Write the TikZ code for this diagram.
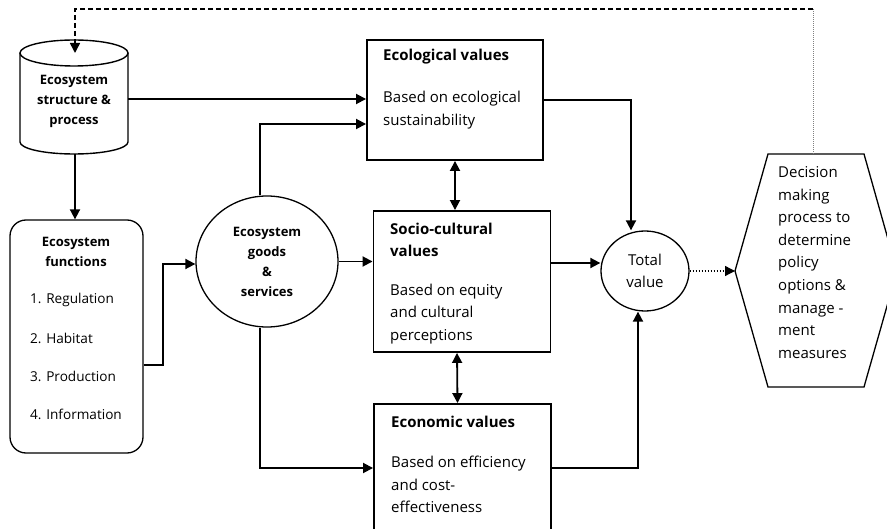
\documentclass[tikz,border=0pt]{standalone}
\usepackage{fontspec}
\setmainfont{Open Sans}
\usetikzlibrary{arrows.meta,shapes.geometric}

\begin{document}
\begin{tikzpicture}[x=1pt,y=-1pt,
  conn/.style={line width=1.8pt},
  tip/.tip={Triangle[length=10pt,width=10pt]},
  arr/.style={conn,-tip},
  darr/.style={conn,tip-tip},
  dotarr/.style={line width=1.3pt,dash pattern=on 1.5pt off 1.5pt,-tip},
  feedback/.style={line width=1.6pt,dash pattern=on 5pt off 3pt},
  valbox/.style={draw,line width=1.9pt,rectangle,inner sep=0pt},
  thinshape/.style={draw,line width=1.3pt,inner sep=0pt},
  txt/.style={inner sep=0pt,align=left,font=\fontsize{15}{22.6}\selectfont},
  head/.style={inner sep=0pt,align=left,font=\fontsize{15}{22}\selectfont\bfseries},
  lbl/.style={inner sep=0pt,align=center,font=\fontsize{13}{20}\selectfont\bfseries},
  item/.style={inner sep=0pt,anchor=west,font=\fontsize{13.6}{16}\selectfont},
]
\path[use as bounding box] (0,0) rectangle (887,529);
\clip (0,0) rectangle (887,529);

% cylinder: ecosystem structure & process
\draw[line width=1.4pt] (20,53) -- (20,142)
  arc[start angle=180,end angle=0,x radius=54,y radius=12] -- (128,53);
\draw[line width=1.4pt] (74,53) ellipse [x radius=54,y radius=13];
\node[lbl] (cyl) at (74,101) {Ecosystem\\structure \&\\process};
\coordinate (cylR) at (128,99);
\coordinate (cylB) at (75,154);
\coordinate (cylT) at (75,53);

% ecosystem functions
\node[thinshape,rounded corners=16pt,minimum width=133pt,minimum height=233pt] (fun) at (76.5,336.5) {};
\node[lbl] (funhead) at (76,252) {Ecosystem\\functions};
\node[item] (f1) at (30,300) {1. Regulation};
\node[item] (f2) at (30,338) {2. Habitat};
\node[item] (f3) at (30,376) {3. Production};
\node[item] (f4) at (30,414) {4. Information};

% goods & services
\node[thinshape,ellipse,minimum width=142pt,minimum height=131pt,lbl] (goods) at (267,261.5)
  {Ecosystem\\goods\\\&\\services};

% value boxes
\node[valbox,minimum width=176pt,minimum height=120pt] (eco) at (455,100) {};
\node[valbox,minimum width=177pt,minimum height=141pt] (soc) at (462,281.5) {};
\node[valbox,minimum width=177pt,minimum height=128pt] (econ) at (462.5,468) {};

\node[head,anchor=west] (ecoh) at (383,57) {Ecological values};
\node[txt,anchor=west] (ecob) at (383,110) {Based on ecological\\sustainability};
\node[head,anchor=west] (soch) at (390,240) {Socio-cultural\\values};
\node[txt,anchor=west] (socb) at (390,314) {Based on equity\\and cultural\\perceptions};
\node[head,anchor=west] (econh) at (391,422) {Economic values};
\node[txt,anchor=west] (econb) at (391,484.5) {Based on efficiency\\and cost-\\effectiveness};

% total value
\node[thinshape,ellipse,minimum width=88pt,minimum height=80pt,txt,align=center] (total) at (645,271)
  {Total\\value};

% decision making hexagon
\draw[line width=1.3pt] (735,271) -- (768,154) -- (864,154) -- (897,271)
  -- (864,387) -- (768,387) -- cycle;
\coordinate (decL) at (735,271);
\coordinate (decT) at (813,154);
\node[txt,anchor=west] (dec) at (778,262.5)
  {Decision\\making\\process to\\determine\\policy\\options \&\\manage -\\ment\\measures};

% connectors
\draw[arr] (cylB) -- (cylB |- fun.north);
\draw[arr] (cylR) -- (cylR -| eco.west);
\draw[arr] ([yshift=-28.5pt]fun.east) -- ++(19,0) |- ([yshift=-2.5pt]goods.west);
\draw[arr] ([xshift=-7pt]goods.north) |- ([yshift=-24pt]eco.west);
\draw[arr] ([xshift=-7pt]goods.south) |- (econ.west);
\draw[arr] (goods.east) -- (goods.east -| soc.west);
\draw[darr] (eco.south) -- (eco.south |- soc.north);
\draw[darr] ([xshift=-5pt]soc.south) -- ([xshift=-5pt]econ.north);
\draw[arr] (eco.east) -| ([xshift=-14pt]total.north);
\draw[arr] ([yshift=18.5pt]soc.east) -- ([yshift=8pt]total.west);
\draw[arr] (econ.east) -| ([xshift=-7pt]total.south);
\draw[dotarr] (total.east) -- (decL);

% feedback loop
\coordinate (fbR) at (813,9);
\coordinate (fbL) at (75,9);
\draw[gray,line width=0.9pt,dash pattern=on 1pt off 1pt] (decT) -- (fbR);
\draw[feedback] (fbR) -- (fbL) -- ([yshift=9pt]cylT);
\draw[line width=1.6pt,-tip] ([yshift=10pt]cylT) -- (cylT);
\end{tikzpicture}
\end{document}
